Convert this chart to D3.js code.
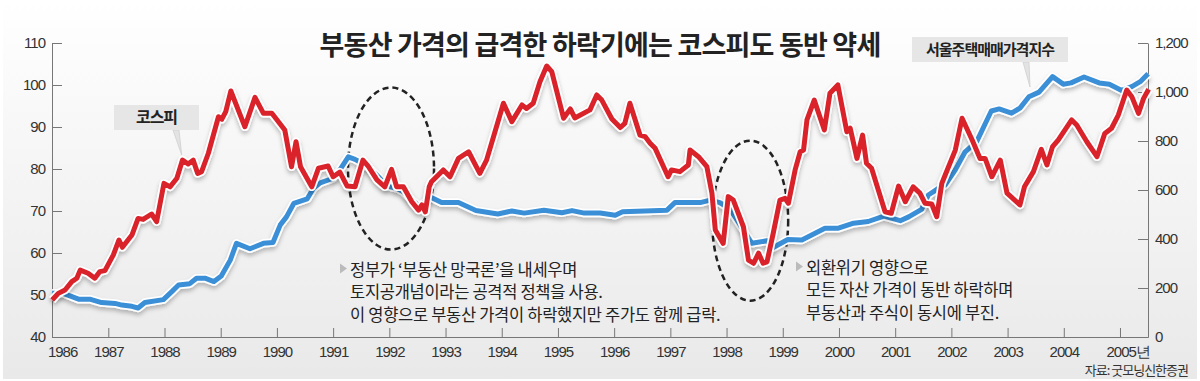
<!DOCTYPE html>
<html>
<head>
<meta charset="utf-8">
<script src="https://cdn.jsdelivr.net/npm/d3@7"></script>
<style>
  body { margin: 0; background: #fff; }
  text { font-family: "Noto Sans CJK KR", "Noto Sans", sans-serif; }
  .axis text { font-family: "Liberation Sans", Arial, sans-serif; font-size: 15px; fill: #333; letter-spacing: -1px; }
  .axis path, .axis line { stroke: #777; }
</style>
</head>
<body>
<div id="chart"></div>
<script>
// 연도 눈금
const years = d3.range(1986, 2006);
const leftTicks = [40, 50, 60, 70, 80, 90, 100, 110];
const rightTicks = [0, 200, 400, 600, 800, 1000, 1200];

// 코스피 (오른쪽 축)
const kospiT = [1986.00, 1986.11, 1986.23, 1986.35, 1986.44, 1986.50, 1986.64, 1986.76, 1986.85, 1986.94,
  1987.09, 1987.19, 1987.25, 1987.42, 1987.53, 1987.62, 1987.77, 1987.86, 1987.99, 1988.10,
  1988.22, 1988.32, 1988.42, 1988.51, 1988.59, 1988.66, 1988.78, 1988.96, 1989.02, 1989.09,
  1989.18, 1989.43, 1989.61, 1989.76, 1989.91, 1990.14, 1990.26, 1990.34, 1990.42, 1990.62,
  1990.74, 1990.91, 1991.00, 1991.12, 1991.25, 1991.39, 1991.53, 1991.63, 1991.78, 1991.92,
  1992.04, 1992.13, 1992.25, 1992.40, 1992.52, 1992.58, 1992.64, 1992.71, 1992.75, 1992.96,
  1993.08, 1993.23, 1993.41, 1993.61, 1993.73, 1993.88, 1994.03, 1994.18, 1994.36, 1994.44,
  1994.56, 1994.68, 1994.80, 1994.89, 1995.10, 1995.22, 1995.30, 1995.57, 1995.69, 1995.78,
  1995.96, 1996.11, 1996.19, 1996.28, 1996.46, 1996.55, 1996.64, 1996.73, 1996.96, 1997.02,
  1997.17, 1997.32, 1997.35, 1997.50, 1997.65, 1997.74, 1997.80, 1997.94, 1998.03, 1998.12,
  1998.30, 1998.39, 1998.48, 1998.57, 1998.65, 1998.72, 1998.83, 1998.95, 1999.04, 1999.10,
  1999.22, 1999.31, 1999.37, 1999.43, 1999.56, 1999.74, 1999.84, 1999.98, 2000.14, 2000.20,
  2000.32, 2000.42, 2000.49, 2000.58, 2000.82, 2000.93, 2001.06, 2001.18, 2001.32, 2001.44,
  2001.53, 2001.65, 2001.74, 2001.83, 2001.89, 2002.07, 2002.19, 2002.37, 2002.51, 2002.60,
  2002.72, 2002.87, 2002.99, 2003.22, 2003.30, 2003.46, 2003.60, 2003.70, 2003.80, 2003.90,
  2004.14, 2004.23, 2004.41, 2004.59, 2004.73, 2004.85, 2004.97, 2005.12, 2005.21, 2005.33,
  2005.42, 2005.51];
const kospiV = [151, 178, 192, 226, 240, 273, 260, 240, 267, 271,
  335, 396, 366, 416, 484, 480, 502, 471, 627, 613,
  648, 722, 706, 722, 668, 675, 750, 899, 889, 920,
  1004, 858, 978, 913, 913, 845, 695, 797, 695, 613,
  689, 698, 654, 673, 616, 613, 722, 695, 641, 613,
  684, 613, 613, 552, 518, 539, 511, 613, 634, 682,
  654, 729, 756, 668, 722, 838, 954, 879, 947, 933,
  954, 1042, 1106, 1083, 893, 931, 894, 927, 988, 967,
  890, 855, 872, 954, 824, 818, 791, 770, 654, 682,
  675, 702, 763, 736, 695, 587, 437, 382, 573, 559,
  450, 314, 301, 342, 301, 307, 423, 559, 566, 546,
  682, 756, 763, 886, 967, 845, 995, 1029, 838, 852,
  729, 824, 709, 689, 511, 505, 616, 552, 613, 587,
  546, 543, 491, 627, 661, 763, 893, 804, 729, 729,
  654, 722, 587, 539, 613, 675, 766, 702, 777, 804,
  886, 865, 797, 736, 831, 852, 906, 1008, 981, 913,
  974, 1011];

// 서울주택매매가격지수 (왼쪽 축)
const houseT = [1986.00, 1986.20, 1986.47, 1986.67, 1986.88, 1987.12, 1987.24, 1987.42, 1987.53, 1987.65,
  1987.98, 1988.13, 1988.25, 1988.45, 1988.57, 1988.72, 1988.88, 1989.01, 1989.17, 1989.28,
  1989.52, 1989.76, 1989.93, 1990.06, 1990.17, 1990.30, 1990.54, 1990.65, 1990.77, 1991.00,
  1991.12, 1991.27, 1991.39, 1991.62, 1991.80, 1991.95, 1992.13, 1992.25, 1992.40, 1992.55,
  1992.72, 1992.93, 1993.23, 1993.54, 1993.93, 1994.18, 1994.40, 1994.75, 1995.07, 1995.25,
  1995.47, 1995.75, 1996.02, 1996.15, 1996.94, 1997.08, 1997.53, 1997.71, 1997.88, 1998.06,
  1998.45, 1998.72, 1998.83, 1999.09, 1999.34, 1999.75, 1999.99, 2000.26, 2000.52, 2000.80,
  2001.09, 2001.24, 2001.47, 2001.59, 2001.77, 2001.89, 2002.07, 2002.24, 2002.45, 2002.71,
  2002.85, 2003.07, 2003.22, 2003.38, 2003.56, 2003.80, 2003.99, 2004.13, 2004.36, 2004.63,
  2004.81, 2005.03, 2005.21, 2005.36, 2005.50];
const houseV = [50.4, 50.4, 49.0, 49.0, 48.2, 48.0, 47.6, 47.3, 46.9, 48.2,
  48.9, 50.8, 52.4, 52.7, 54.0, 54.0, 53.2, 54.5, 58.3, 62.3,
  61.0, 62.3, 62.5, 66.7, 68.6, 71.8, 72.9, 75.4, 76.7, 77.8,
  79.8, 82.9, 82.3, 80.6, 78.2, 76.0, 75.4, 74.6, 72.6, 71.0,
  73.4, 72.0, 72.0, 70.1, 69.3, 70.0, 69.5, 70.2, 69.6, 70.1,
  69.5, 69.5, 69.0, 69.8, 70.2, 72.0, 72.0, 72.6, 72.0, 70.5,
  62.3, 62.9, 61.3, 63.2, 63.1, 65.9, 65.9, 67.1, 67.5, 68.8,
  67.7, 68.6, 70.4, 73.8, 75.4, 76.2, 79.8, 84.0, 86.5, 93.8,
  94.3, 93.3, 94.5, 97.2, 98.3, 102.0, 100.2, 100.5, 101.9, 100.5,
  100.2, 98.7, 99.6, 100.8, 102.7];

const note1 = ["정부가 ‘부동산 망국론’을 내세우며", "토지공개념이라는 공격적 정책을 사용.", "이 영향으로 부동산 가격이 하락했지만 주가도 함께 급락."];
const note2 = ["외환위기 영향으로", "모든 자산 가격이 동반 하락하며", "부동산과 주식이 동시에 부진."];

const width = 1200, height = 381;
const svg = d3.select("#chart").append("svg")
  .attr("width", width)
  .attr("height", height);

const defs = svg.append("defs");
const grad = defs.append("linearGradient").attr("id", "bg").attr("x1", 0).attr("y1", 0).attr("x2", 0).attr("y2", 1);
grad.append("stop").attr("offset", "0%").attr("stop-color", "#ffffff");
grad.append("stop").attr("offset", "100%").attr("stop-color", "#e9e9e9");

const shadow = defs.append("filter").attr("id", "shadow")
  .attr("x", "-5%").attr("y", "-5%").attr("width", "110%").attr("height", "120%");
shadow.append("feDropShadow").attr("dx", 0).attr("dy", 3).attr("stdDeviation", 2)
  .attr("flood-color", "#000").attr("flood-opacity", 0.25);

svg.append("rect")
  .attr("x", 3).attr("y", 0).attr("width", 1194).attr("height", 379)
  .attr("fill", "url(#bg)");

const x = d3.scaleLinear().domain([1986, 2005.5]).range([52.1, 1148.1]);
const yL = d3.scaleLinear().domain([40, 110]).range([337, 43]);
const yR = d3.scaleLinear().domain([0, 1200]).range([337, 43]);

// axes
svg.append("g").attr("class", "axis")
  .attr("transform", "translate(52,0)")
  .call(d3.axisLeft(yL).tickValues(leftTicks).tickSize(-10).tickSizeOuter(0).tickPadding(7));

svg.append("g").attr("class", "axis")
  .attr("transform", "translate(1148,0)")
  .call(d3.axisRight(yR).tickValues(rightTicks).tickFormat(d3.format(",")).tickSize(-10).tickSizeOuter(0).tickPadding(7));

const xAxis = svg.append("g").attr("class", "axis")
  .attr("transform", "translate(0,337)")
  .call(d3.axisBottom(x).tickValues(years).tickFormat(d => d === 2005 ? "2005년" : String(d))
    .tickSize(-9).tickSizeOuter(0).tickPadding(9));
xAxis.selectAll(".tick").filter(d => d === 1986).select("line").remove();
xAxis.selectAll(".tick").filter(d => d === 1986).select("text").attr("dx", 10);
xAxis.selectAll(".tick").filter(d => d === 2005).select("text").attr("text-anchor", "start").attr("dx", -14);

// dashed ellipses
const ellipses = [
  { t: 1992.03, v: 80.1, rx: 43, ry: 81 },
  { t: 1998.42, v: 67.7, rx: 38, ry: 80 }
];
svg.selectAll(".ring").data(ellipses).enter().append("ellipse")
  .attr("cx", d => x(d.t))
  .attr("cy", d => yL(d.v))
  .attr("rx", d => d.rx)
  .attr("ry", d => d.ry)
  .attr("fill", "none")
  .attr("stroke", "#222")
  .attr("stroke-width", 2.5)
  .attr("stroke-dasharray", "6,4");

// lines
const house = houseT.map((t, i) => ({ t: t, v: houseV[i] }));
const kospi = kospiT.map((t, i) => ({ t: t, v: kospiV[i] }));

const houseLine = d3.line().x(d => x(d.t)).y(d => yL(d.v));
const kospiLine = d3.line().x(d => x(d.t)).y(d => yR(d.v));

function drawSeries(data, gen, color) {
  svg.append("path").datum(data)
    .attr("d", gen)
    .attr("fill", "none")
    .attr("stroke", "#fff")
    .attr("stroke-width", 8.5)
    .attr("stroke-linejoin", "round")
    .attr("filter", "url(#shadow)");
  svg.append("path").datum(data)
    .attr("d", gen)
    .attr("fill", "none")
    .attr("stroke", color)
    .attr("stroke-width", 5)
    .attr("stroke-linejoin", "round");
}
drawSeries(house, houseLine, "#3b8fd6");
drawSeries(kospi, kospiLine, "#d9222a");

// title
svg.append("text")
  .attr("x", 600).attr("y", 55)
  .attr("text-anchor", "middle")
  .attr("font-size", 27).attr("font-weight", 700)
  .attr("letter-spacing", -0.8)
  .attr("fill", "#222")
  .text("부동산 가격의 급격한 하락기에는 코스피도 동반 약세");

// callout labels
function callout(bx, by, bw, bh, tip, label, size) {
  svg.append("path")
    .attr("d", `M${tip[0] - 6},${by + bh} L${tip[0]},${by + bh} L${tip[1]},${tip[2]} Z`)
    .attr("fill", "#e3e3e3").attr("stroke", "#cfcfcf").attr("stroke-width", 0.8);
  svg.append("rect")
    .attr("x", bx).attr("y", by).attr("width", bw).attr("height", bh)
    .attr("fill", "#e6e6e6");
  svg.append("text")
    .attr("x", bx + bw / 2).attr("y", by + bh / 2 + size * 0.36)
    .attr("text-anchor", "middle")
    .attr("font-size", size).attr("font-weight", 700)
    .attr("letter-spacing", -1)
    .attr("fill", "#222")
    .text(label);
}
callout(114, 105, 85, 25, [179, 181.7, 155], "코스피", 16);
callout(912, 37, 156, 25, [1029, 1030, 87], "서울주택매매가격지수", 15);

// annotations
function note(tx, ty, lines) {
  svg.append("path")
    .attr("d", `M${tx - 10},${ty - 12} L${tx - 3},${ty - 7} L${tx - 10},${ty - 2} Z`)
    .attr("fill", "#bbb");
  svg.append("text")
    .attr("x", tx).attr("y", ty)
    .attr("font-size", 16.5).attr("letter-spacing", -0.3)
    .attr("fill", "#222")
    .selectAll("tspan").data(lines).enter().append("tspan")
    .attr("x", tx)
    .attr("dy", (d, i) => i === 0 ? 0 : 22.8)
    .text(d => d);
}
note(350, 275.5, note1);
note(806, 273.5, note2);

// source
svg.append("text")
  .attr("x", 1188).attr("y", 375)
  .attr("text-anchor", "end")
  .attr("font-size", 13).attr("letter-spacing", -1)
  .attr("fill", "#333")
  .text("자료: 굿모닝신한증권");
</script>
</body>
</html>
